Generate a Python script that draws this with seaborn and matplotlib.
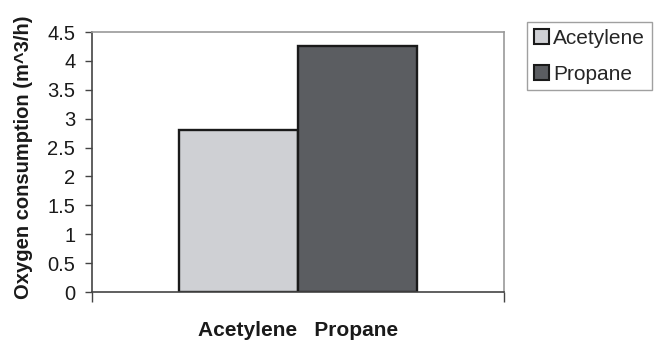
import matplotlib
matplotlib.use("Agg")
import matplotlib.pyplot as plt
import seaborn as sns
import pandas as pd
from matplotlib.patches import Patch

# Data
group_label = ["Acetylene   Propane"]
fuels = ["Acetylene", "Propane"]
oxygen = [2.8, 4.25]
colors = ["#cfd0d4", "#5b5d61"]
yticks = [0, 0.5, 1, 1.5, 2, 2.5, 3, 3.5, 4, 4.5]

df = pd.DataFrame({"group": group_label * len(fuels), "fuel": fuels, "oxygen": oxygen})

sns.set_theme(style="white")
plt.rcParams["font.family"] = ["Liberation Sans", "DejaVu Sans"]

fig = plt.figure(figsize=(6.58, 3.43), dpi=100)
ax = fig.add_axes([92/658, 1-292/343, (504-92)/658, (292-32)/343])

sns.barplot(data=df, x="group", y="oxygen", hue="fuel", palette=colors,
            width=0.578, gap=0, edgecolor="#1a1a1a", linewidth=1.7,
            saturation=1, legend=False, ax=ax)

ax.set_xlim(-0.5, 0.5)
ax.set_ylim(0, 4.5)
ax.set_yticks(yticks)
ax.set_yticklabels([f"{v:g}" for v in yticks], fontsize=14.5, color="#1a1a1a")
ax.set_xticks([-0.5, 0.5])
ax.set_xticklabels(["", ""])
ax.set_xticks([0], minor=True)
ax.set_xticklabels(group_label, minor=True, fontsize=15, fontweight="bold", color="#1a1a1a")
ax.tick_params(axis="x", which="major", direction="out", length=7, width=1, color="#444444", bottom=True)
ax.tick_params(axis="x", which="minor", length=0, pad=21, bottom=True)
ax.tick_params(axis="y", direction="out", length=5, width=1, color="#444444", left=True, pad=7)
ax.set_xlabel("")
ax.set_ylabel("Oxygen consumption (m^3/h)", fontsize=14.5, fontweight="bold", color="#1a1a1a")
ax.yaxis.set_label_coords(-(92-33)/412, (292-157)/260)

for s in ["left", "bottom"]:
    ax.spines[s].set_color("#444444")
    ax.spines[s].set_linewidth(1.2)
for s in ["top", "right"]:
    ax.spines[s].set_color("#9a9a9a")
    ax.spines[s].set_linewidth(1.2)
    ax.spines[s].set_visible(True)

handles = [Patch(facecolor=c, edgecolor="#1a1a1a", linewidth=1.5, label=f) for c, f in zip(colors, fuels)]
leg = fig.legend(handles=handles, loc="upper left", bbox_to_anchor=(527/658, 1-22/343),
                 fontsize=15, frameon=True, fancybox=False, edgecolor="#888888",
                 handlelength=0.72, handleheight=0.72, handletextpad=0.2,
                 borderpad=0.33, labelspacing=0.8, borderaxespad=0)
leg.get_frame().set_linewidth(1.0)

fig.savefig("out.png", dpi=100)
